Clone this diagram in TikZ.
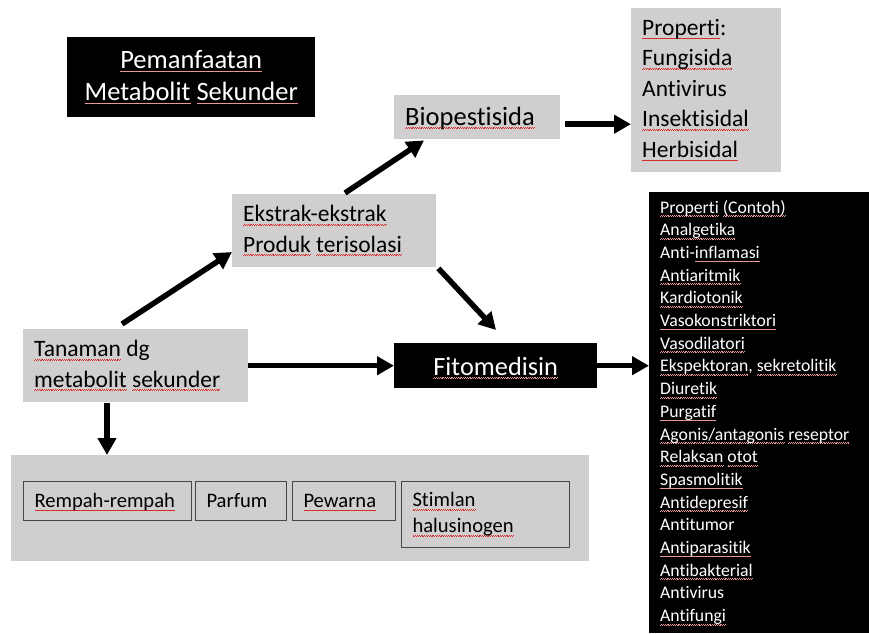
\documentclass[tikz,border=0pt]{standalone}
\usepackage{fontspec}
\setmainfont[Ligatures=NoCommon]{Carlito}
\usetikzlibrary{arrows.meta}
\definecolor{boxgray}{RGB}{208,206,206}
\definecolor{sqred}{RGB}{215,45,45}
\definecolor{sqpink}{RGB}{235,150,150}
\newsavebox\sqbox
\newcommand\sqline[2]{\sbox\sqbox{#2}\leavevmode\rlap{\hbox to \wd\sqbox{\color{#1}\xleaders\hbox{\rule[-3.6pt]{0.9pt}{0.75pt}\rule[-2.9pt]{0.9pt}{0.75pt}}\hfill}}\usebox\sqbox}
\newcommand\sq[1]{\sqline{sqred}{#1}}
\newcommand\sqd[1]{\sqline{sqpink}{#1}}
\begin{document}
\begin{tikzpicture}[x=1pt,y=-1pt,
  gbox/.style={fill=boxgray, draw=none, anchor=north west, inner xsep=11pt, inner ysep=0pt, align=flush left},
  bbox/.style={fill=black, text=white, anchor=north west, inner sep=0pt, align=center},
  lbox/.style={fill=black, text=white, anchor=north west, inner xsep=11pt, inner ysep=0pt, align=flush left},
  ibox/.style={draw=black!72, line width=1pt, anchor=north west, inner xsep=11pt, inner ysep=0pt, align=flush left},
  arr/.style={line width=5.5pt, -{Triangle[length=17pt,width=18pt]}},
  bigfont/.style={font=\fontsize{23.5}{30.5}\selectfont},
  smallfont/.style={font=\fontsize{20.6}{26}\selectfont},
  oneline/.style={text height=18.5pt, text depth=5.5pt}
]
\useasboundingbox (0,0) rectangle (869,633);

% title
\node[bbox, minimum width=248pt, minimum height=80pt, font=\fontsize{26.5}{32}\selectfont] (title) at (67,37)
  {\sqd{Pemanfaatan}\\\sqd{Metabolit} \sqd{Sekunder}};

% biopestisida
\node[gbox, font=\fontsize{26.5}{32}\selectfont, text width=144pt, minimum height=44pt, text height=23pt, text depth=7pt] (bio) at (394,95) {\sq{Biopestisida}};

% properti box
\node[gbox, bigfont, text width=128pt, minimum height=164pt] (prop) at (631,8)
  {\sq{Properti}:\\\sq{Fungisida}\\Antivirus\\\sq{Insektisidal}\\\sq{Herbisidal}};

% ekstrak
\node[gbox, bigfont, text width=182pt, minimum height=73pt] (ekst) at (232,194)
  {\sq{Ekstrak-ekstrak}\\\sq{Produk} \sq{terisolasi}};

% tanaman
\node[gbox, bigfont, text width=203pt, minimum height=73pt] (tan) at (23,329)
  {\sq{Tanaman} dg\\\sq{metabolit} \sq{sekunder}};

% fitomedisin
\node[bbox, minimum width=203pt, minimum height=45pt, text height=24.5pt, text depth=5.5pt, font=\fontsize{26.3}{32}\selectfont] (fito) at (394,343)
  {\sqd{Fitomedisin}};

% list box
\node[lbox, text width=198pt, minimum height=441pt, font=\fontsize{17.7}{22.7}\selectfont] (list) at (649,192)
  {\sqd{Properti} \sqd{(Contoh)}\\
   \sqd{Analgetika}\\
   Anti-\sqd{inflamasi}\\
   \sqd{Antiaritmik}\\
   \sqd{Kardiotonik}\\
   \sqd{Vasokonstriktori}\\
   \sqd{Vasodilatori}\\
   \sqd{Ekspektoran}, \sqd{sekretolitik}\\
   \sqd{Diuretik}\\
   \sqd{Purgatif}\\
   \sqd{Agonis/antagonis} \sqd{reseptor}\\
   \sqd{Relaksan} \sqd{otot}\\
   \sqd{Spasmolitik}\\
   \sqd{Antidepresif}\\
   Antitumor\\
   \sqd{Antiparasitik}\\
   \sqd{Antibakterial}\\
   Antivirus\\
   \sqd{Antifungi}};

% bottom uses box
\node[gbox, minimum width=578pt, minimum height=106pt, inner sep=0pt] (uses) at (11,455) {};
\node[ibox, smallfont, oneline, text width=146pt, minimum height=39pt] (rempah) at (23,481) {\sq{Rempah-rempah}};
\node[ibox, smallfont, oneline, text width=69pt, minimum height=39pt] (parfum) at (195,481) {Parfum};
\node[ibox, smallfont, oneline, text width=81pt, minimum height=39pt] (pewarna) at (292,481) {\sq{Pewarna}};
\node[ibox, smallfont, text width=146pt, minimum height=66pt] (stim) at (401,481) {\sq{Stimlan}\\\sq{halusinogen}};

% arrows
\draw[arr] ([shift={(99,-5)}]tan.north west) -- ([shift={(0,58)}]ekst.north west);
\draw[arr] ([shift={(113,-1)}]ekst.north west) -- ([shift={(30,1)}]bio.south west);
\draw[arr] ([shift={(2,1)}]ekst.south east) -- ([shift={(102,-13)}]fito.north west);
\draw[arr] (tan.east) -- (fito.west);
\draw[arr] (fito.east) -- (fito.east -| list.west);
\coordinate (bioout) at ([shift={(5,7)}]bio.east);
\draw[arr] (bioout) -- (bioout -| prop.west);
\coordinate (tandown) at ([shift={(84,1)}]tan.south west);
\draw[arr] (tandown) -- (tandown |- uses.north);
\end{tikzpicture}
\end{document}
